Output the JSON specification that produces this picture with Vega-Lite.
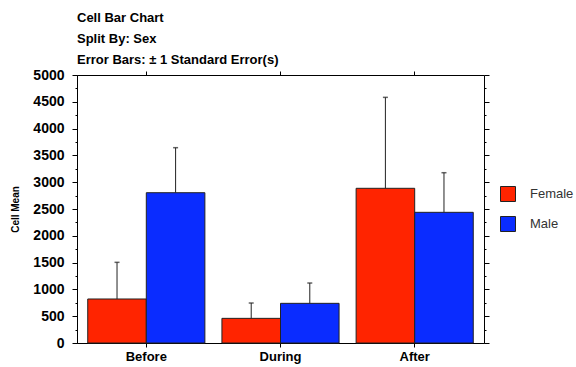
{
  "$schema": "https://vega.github.io/schema/vega-lite/v6.json",
  "autosize": {"type": "none"},
  "width": 407,
  "height": 268,
  "padding": {"left": 77, "top": 75, "right": 92, "bottom": 24},
  "background": "white",
  "title": {
    "text": ["Cell Bar Chart", "Split By: Sex", "Error Bars: ± 1 Standard Error(s)"],
    "anchor": "start",
    "frame": "group",
    "font": "Liberation Sans",
    "fontSize": 13,
    "fontWeight": "bold",
    "color": "black",
    "lineHeight": 21,
    "offset": 1
  },
  "config": {
    "view": {"stroke": "black", "strokeWidth": 1},
    "axis": {
      "labelFont": "Liberation Sans",
      "labelFontWeight": "bold",
      "labelFontSize": 13,
      "labelColor": "black",
      "titleFont": "Liberation Sans",
      "titleFontWeight": "bold",
      "titleColor": "black",
      "domainColor": "black",
      "tickColor": "black",
      "grid": false
    }
  },
  "data": {
    "values": [
      {"time": "Before", "sex": "Female", "mean": 821, "upper": 1505},
      {"time": "Before", "sex": "Male", "mean": 2804, "upper": 3644},
      {"time": "During", "sex": "Female", "mean": 460, "upper": 746},
      {"time": "During", "sex": "Male", "mean": 740, "upper": 1119},
      {"time": "After", "sex": "Female", "mean": 2886, "upper": 4583},
      {"time": "After", "sex": "Male", "mean": 2438, "upper": 3177}
    ]
  },
  "resolve": {"axis": {"x": "independent", "y": "independent"}},
  "layer": [
    {
      "mark": {"type": "bar", "stroke": "#222222", "strokeWidth": 1},
      "encoding": {
        "x": {
          "field": "time", "type": "nominal", "sort": ["Before", "During", "After"],
          "scale": {"paddingInner": 0.127, "paddingOuter": 0.08},
          "axis": {"title": null, "labelAngle": 0, "tickSize": 4, "labelPadding": 3, "domainWidth": 1}
        },
        "xOffset": {"field": "sex", "type": "nominal", "scale": {"paddingInner": 0}},
        "y": {
          "field": "mean", "type": "quantitative",
          "scale": {"domain": [0, 5000], "nice": false},
          "axis": {
            "title": "Cell Mean", "titleFontSize": 10, "titlePadding": 12,
            "values": [0, 250, 500, 750, 1000, 1250, 1500, 1750, 2000, 2250, 2500, 2750, 3000, 3250, 3500, 3750, 4000, 4250, 4500, 4750, 5000],
            "labelExpr": "datum.value % 500 === 0 ? datum.value : ''",
            "labelFontSize": 14,
            "tickSize": {"condition": {"test": "datum.value % 500 === 0", "value": 5}, "value": 2},
            "labelPadding": 8
          }
        },
        "color": {
          "field": "sex", "type": "nominal",
          "scale": {"domain": ["Female", "Male"], "range": ["#ff2400", "#0a2cff"]},
          "legend": {
            "title": null, "orient": "none", "legendX": 423, "legendY": 111,
            "symbolType": "square", "symbolSize": 225, "symbolStrokeColor": "#222222",
            "symbolStrokeWidth": 1, "symbolOpacity": 1,
            "labelFont": "Liberation Sans", "labelFontSize": 13, "labelColor": "#333333",
            "labelOffset": 14, "rowPadding": 10
          }
        }
      }
    },
    {
      "mark": {"type": "rule", "color": "#222222", "strokeWidth": 1},
      "encoding": {
        "x": {
          "field": "time", "type": "nominal", "sort": ["Before", "During", "After"],
          "axis": {"orient": "top", "title": null, "labels": false, "tickSize": 4, "domain": false}
        },
        "xOffset": {"field": "sex", "type": "nominal"},
        "y": {
          "field": "mean", "type": "quantitative",
          "axis": {
            "orient": "right", "title": null, "labels": false, "domain": false,
            "values": [0, 250, 500, 750, 1000, 1250, 1500, 1750, 2000, 2250, 2500, 2750, 3000, 3250, 3500, 3750, 4000, 4250, 4500, 4750, 5000],
            "tickSize": {"condition": {"test": "datum.value % 500 === 0", "value": 5}, "value": 2}
          }
        },
        "y2": {"field": "upper"}
      }
    },
    {
      "mark": {"type": "tick", "color": "#222222", "orient": "horizontal", "size": 5, "thickness": 1.5},
      "encoding": {
        "x": {"field": "time", "type": "nominal", "sort": ["Before", "During", "After"], "axis": null},
        "xOffset": {"field": "sex", "type": "nominal"},
        "y": {"field": "upper", "type": "quantitative", "axis": null}
      }
    }
  ]
}
